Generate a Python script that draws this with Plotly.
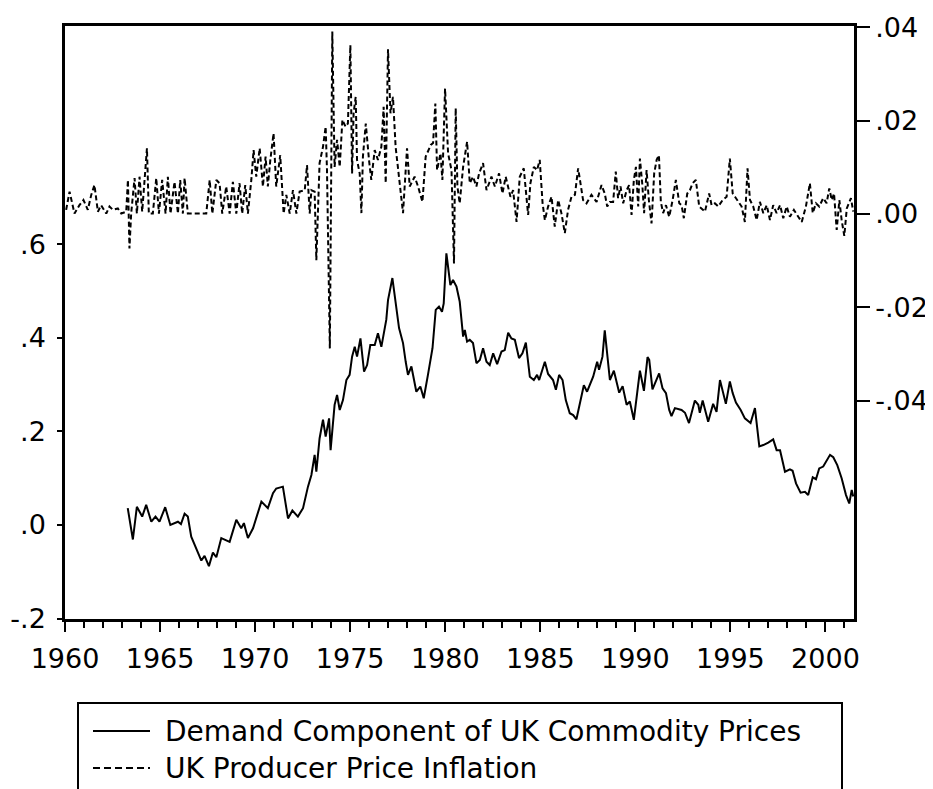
import plotly.graph_objects as go

# ---------------------------------------------------------
# Data
# ---------------------------------------------------------
dem_year = [
    1963.30, 1963.57, 1963.78, 1964.06, 1964.27, 1964.54, 1964.76, 1964.97, 1965.27, 1965.54,
    1965.94, 1966.10, 1966.29, 1966.46, 1966.64, 1966.90, 1967.17, 1967.34, 1967.57, 1967.78,
    1967.96, 1968.22, 1968.66, 1969.01, 1969.27, 1969.41, 1969.62, 1969.89, 1970.33, 1970.67,
    1970.94, 1971.11, 1971.46, 1971.73, 1971.96, 1972.25, 1972.52, 1972.78, 1972.96, 1973.13,
    1973.22, 1973.39, 1973.57, 1973.71, 1973.89, 1973.97, 1974.18, 1974.31, 1974.45, 1974.62,
    1974.80, 1974.97, 1975.10, 1975.24, 1975.36, 1975.54, 1975.73, 1975.89, 1976.06, 1976.29,
    1976.46, 1976.64, 1976.90, 1976.99, 1977.22, 1977.57, 1977.78, 1977.92, 1978.04, 1978.22,
    1978.48, 1978.69, 1978.87, 1979.09, 1979.33, 1979.50, 1979.67, 1979.83, 1979.92, 1980.06,
    1980.27, 1980.41, 1980.59, 1980.76, 1980.94, 1981.03, 1981.15, 1981.29, 1981.46, 1981.64,
    1981.82, 1981.99, 1982.17, 1982.34, 1982.52, 1982.73, 1982.96, 1983.13, 1983.31, 1983.48,
    1983.66, 1983.88, 1984.06, 1984.24, 1984.45, 1984.66, 1984.83, 1984.94, 1985.24, 1985.41,
    1985.67, 1985.82, 1985.99, 1986.17, 1986.34, 1986.55, 1986.73, 1986.90, 1987.08, 1987.29,
    1987.46, 1987.78, 1987.99, 1988.09, 1988.27, 1988.39, 1988.66, 1988.87, 1989.15, 1989.33,
    1989.54, 1989.71, 1989.92, 1990.06, 1990.24, 1990.45, 1990.64, 1990.73, 1990.90, 1991.25,
    1991.43, 1991.61, 1991.78, 1991.90, 1992.08, 1992.43, 1992.61, 1992.82, 1993.13, 1993.31,
    1993.39, 1993.54, 1993.83, 1994.09, 1994.27, 1994.45, 1994.76, 1994.97, 1995.12, 1995.29,
    1995.54, 1995.76, 1996.06, 1996.29, 1996.52, 1996.73, 1996.99, 1997.25, 1997.43, 1997.61,
    1997.87, 1998.13, 1998.27, 1998.45, 1998.69, 1998.92, 1999.09, 1999.33, 1999.50, 1999.67,
    1999.88, 2000.24, 2000.41, 2000.62, 2000.85, 2001.08, 2001.25, 2001.38, 2001.46,
]
dem_val = [
    0.036, -0.031, 0.039, 0.018, 0.043, 0.007, 0.018, 0.007, 0.038, 0.000,
    0.007, 0.002, 0.024, 0.018, -0.025, -0.050, -0.076, -0.066, -0.088, -0.059,
    -0.069, -0.028, -0.036, 0.011, -0.007, 0.004, -0.028, -0.007, 0.050, 0.036,
    0.068, 0.078, 0.082, 0.014, 0.031, 0.018, 0.036, 0.082, 0.107, 0.150,
    0.114, 0.185, 0.225, 0.189, 0.228, 0.160, 0.257, 0.278, 0.246, 0.267,
    0.310, 0.321, 0.360, 0.381, 0.360, 0.399, 0.328, 0.342, 0.385, 0.385,
    0.410, 0.381, 0.439, 0.481, 0.528, 0.421, 0.389, 0.349, 0.321, 0.339,
    0.285, 0.296, 0.271, 0.321, 0.378, 0.460, 0.467, 0.456, 0.474, 0.581,
    0.513, 0.524, 0.510, 0.478, 0.403, 0.417, 0.392, 0.396, 0.389, 0.346,
    0.353, 0.378, 0.349, 0.342, 0.367, 0.344, 0.371, 0.374, 0.411, 0.399,
    0.396, 0.357, 0.367, 0.390, 0.317, 0.310, 0.321, 0.310, 0.349, 0.323,
    0.310, 0.289, 0.321, 0.310, 0.267, 0.239, 0.235, 0.226, 0.260, 0.299,
    0.285, 0.317, 0.349, 0.332, 0.360, 0.416, 0.310, 0.330, 0.283, 0.297,
    0.257, 0.264, 0.225, 0.267, 0.330, 0.287, 0.359, 0.353, 0.290, 0.324,
    0.292, 0.282, 0.246, 0.233, 0.250, 0.246, 0.240, 0.218, 0.266, 0.257,
    0.240, 0.266, 0.221, 0.259, 0.242, 0.310, 0.259, 0.307, 0.282, 0.262,
    0.246, 0.228, 0.218, 0.250, 0.168, 0.171, 0.176, 0.183, 0.160, 0.160,
    0.114, 0.119, 0.116, 0.089, 0.069, 0.071, 0.064, 0.102, 0.098, 0.121,
    0.125, 0.150, 0.145, 0.128, 0.100, 0.064, 0.046, 0.075, 0.061,
]

ppi_year = [
    1960.06, 1960.24, 1960.50, 1960.76, 1960.97, 1961.20, 1961.38, 1961.55, 1961.73, 1961.90,
    1962.17, 1962.34, 1962.52, 1962.78, 1962.96, 1963.22, 1963.31, 1963.39, 1963.48, 1963.66,
    1963.78, 1963.92, 1964.06, 1964.18, 1964.31, 1964.41, 1964.62, 1964.80, 1964.94, 1965.11,
    1965.29, 1965.41, 1965.55, 1965.76, 1965.94, 1966.06, 1966.20, 1966.29, 1966.46, 1967.43,
    1967.61, 1967.75, 1967.96, 1968.13, 1968.27, 1968.48, 1968.66, 1968.83, 1969.01, 1969.18,
    1969.32, 1969.48, 1969.62, 1969.80, 1969.92, 1970.06, 1970.24, 1970.41, 1970.55, 1970.67,
    1970.80, 1970.97, 1971.11, 1971.32, 1971.50, 1971.64, 1971.82, 1971.99, 1972.17, 1972.34,
    1972.61, 1972.73, 1972.87, 1972.96, 1973.13, 1973.22, 1973.39, 1973.57, 1973.71, 1973.78,
    1973.93, 1974.06, 1974.18, 1974.31, 1974.45, 1974.59, 1974.76, 1974.88, 1975.01, 1975.10,
    1975.18, 1975.29, 1975.36, 1975.50, 1975.59, 1975.67, 1975.82, 1975.99, 1976.11, 1976.29,
    1976.46, 1976.64, 1976.76, 1976.87, 1976.99, 1977.12, 1977.25, 1977.39, 1977.61, 1977.78,
    1977.99, 1978.13, 1978.39, 1978.57, 1978.80, 1978.97, 1979.24, 1979.36, 1979.48, 1979.57,
    1979.75, 1979.85, 1979.99, 1980.15, 1980.33, 1980.46, 1980.55, 1980.64, 1980.76, 1980.94,
    1981.15, 1981.29, 1981.46, 1981.64, 1981.78, 1981.99, 1982.17, 1982.43, 1982.61, 1982.83,
    1983.01, 1983.18, 1983.43, 1983.57, 1983.75, 1983.92, 1984.13, 1984.36, 1984.48, 1984.66,
    1984.83, 1984.97, 1985.12, 1985.24, 1985.41, 1985.59, 1985.76, 1985.94, 1986.11, 1986.29,
    1986.46, 1986.64, 1986.82, 1986.99, 1987.25, 1987.43, 1987.69, 1987.96, 1988.04, 1988.22,
    1988.39, 1988.52, 1988.66, 1988.83, 1988.97, 1989.09, 1989.22, 1989.36, 1989.54, 1989.67,
    1989.80, 1989.92, 1990.03, 1990.15, 1990.24, 1990.36, 1990.46, 1990.59, 1990.71, 1990.85,
    1990.99, 1991.12, 1991.24, 1991.34, 1991.46, 1991.61, 1991.78, 1991.96, 1992.13, 1992.31,
    1992.43, 1992.55, 1992.73, 1992.87, 1993.01, 1993.18, 1993.36, 1993.66, 1993.88, 1994.01,
    1994.18, 1994.36, 1994.59, 1994.80, 1994.97, 1995.12, 1995.24, 1995.41, 1995.59, 1995.76,
    1995.90, 1996.03, 1996.20, 1996.38, 1996.55, 1996.73, 1996.91, 1997.08, 1997.25, 1997.43,
    1997.61, 1997.78, 1997.96, 1998.13, 1998.34, 1998.57, 1998.75, 1998.97, 1999.18, 1999.33,
    1999.50, 1999.67, 1999.88, 2000.06, 2000.20, 2000.33, 2000.45, 2000.59, 2000.73, 2000.85,
    2000.99, 2001.12, 2001.25, 2001.34, 2001.46,
]
ppi_val = [
    0.0009, 0.0048, 0.0001, 0.0019, 0.0030, 0.0009, 0.0041, 0.0062, 0.0005, 0.0019,
    0.0001, 0.0016, 0.0009, 0.0012, 0.0001, 0.0005, 0.0073, -0.0074, 0.0001, 0.0077,
    0.0001, 0.0080, 0.0005, 0.0080, 0.0141, 0.0001, 0.0001, 0.0077, 0.0001, 0.0073,
    0.0001, 0.0080, 0.0001, 0.0069, 0.0001, 0.0073, 0.0001, 0.0077, 0.0001, 0.0001,
    0.0073, 0.0001, 0.0073, 0.0066, 0.0001, 0.0059, 0.0001, 0.0069, 0.0001, 0.0066,
    0.0001, 0.0062, 0.0001, 0.0073, 0.0137, 0.0080, 0.0141, 0.0059, 0.0123, 0.0059,
    0.0116, 0.0173, 0.0059, 0.0126, 0.0001, 0.0041, 0.0001, 0.0051, 0.0001, 0.0048,
    0.0051, 0.0105, 0.0001, 0.0051, 0.0048, -0.0099, 0.0109, 0.0144, 0.0187, 0.0094,
    -0.0288, 0.0391, 0.0101, 0.0159, 0.0101, 0.0202, 0.0187, 0.0194, 0.0362, 0.0087,
    0.0216, 0.0251, 0.0116, 0.0087, 0.0002, 0.0123, 0.0194, 0.0116, 0.0073, 0.0137,
    0.0116, 0.0144, 0.0230, 0.0066, 0.0353, 0.0216, 0.0251, 0.0144, 0.0059, 0.0002,
    0.0141, 0.0059, 0.0080, 0.0059, 0.0026, 0.0123, 0.0148, 0.0152, 0.0237, 0.0094,
    0.0130, 0.0073, 0.0269, 0.0130, 0.0094, -0.0106, 0.0227, 0.0059, 0.0023, 0.0101,
    0.0155, 0.0066, 0.0080, 0.0059, 0.0087, 0.0109, 0.0051, 0.0080, 0.0059, 0.0087,
    0.0044, 0.0080, 0.0037, 0.0051, -0.0017, 0.0080, 0.0098, -0.0002, 0.0066, 0.0101,
    0.0094, 0.0116, 0.0023, -0.0013, 0.0016, 0.0037, -0.0027, 0.0030, 0.0002, -0.0041,
    0.0009, 0.0037, 0.0041, 0.0098, 0.0030, 0.0023, 0.0041, 0.0026, 0.0037, 0.0062,
    0.0044, 0.0016, 0.0026, 0.0026, 0.0091, 0.0034, 0.0059, 0.0023, 0.0051, 0.0062,
    -0.0002, 0.0073, 0.0101, 0.0016, 0.0119, 0.0066, 0.0002, 0.0094, 0.0030, -0.0020,
    0.0087, 0.0116, 0.0126, 0.0026, 0.0002, 0.0019, -0.0006, 0.0030, 0.0073, 0.0023,
    0.0019, -0.0009, 0.0044, 0.0051, 0.0066, 0.0073, 0.0016, 0.0005, 0.0044, 0.0019,
    0.0023, 0.0016, 0.0030, 0.0037, 0.0119, 0.0044, 0.0037, 0.0026, 0.0016, -0.0017,
    0.0098, 0.0030, 0.0016, -0.0013, 0.0026, 0.0002, 0.0019, -0.0013, 0.0019, 0.0002,
    0.0019, -0.0009, 0.0016, -0.0006, 0.0009, -0.0006, -0.0017, 0.0016, 0.0066, 0.0002,
    0.0023, 0.0016, 0.0034, 0.0023, 0.0055, 0.0030, 0.0044, -0.0034, 0.0030, -0.0013,
    -0.0047, 0.0012, 0.0026, 0.0034, 0.0005,
]

x_ticks = [1960, 1965, 1970, 1975, 1980, 1985, 1990, 1995, 2000]
left_ticks = [-0.2, 0.0, 0.2, 0.4, 0.6]
left_labels = ["-.2", ".0", ".2", ".4", ".6"]
right_ticks = [0.04, 0.02, 0.0, -0.02, -0.04]
right_labels = [".04", ".02", ".00", "-.02", "-.04"]
series_names = ["Demand Component of UK Commodity Prices", "UK Producer Price Inflation"]

FONT = "DejaVu Sans, Liberation Sans, Arial, sans-serif"
# the page body adds an 8px margin, so the figure is 8px smaller and shifted
OFF = 8
W, H = 933 - OFF, 789 - OFF
ML, MR, MT, MB = 65 - OFF, 79, 26 - OFF, 170
PW, PH = W - ML - MR, H - MT - MB


def px_x(p):
    # window pixel -> paper x
    return (p - OFF - ML) / PW


def px_y(p):
    # window pixel -> paper y
    return (H - MB - (p - OFF)) / PH


# ---------------------------------------------------------
# Figure
# ---------------------------------------------------------
fig = go.Figure()
fig.add_trace(go.Scatter(x=dem_year, y=dem_val, mode="lines", name=series_names[0],
                         line=dict(color="black", width=2), yaxis="y"))
fig.add_trace(go.Scatter(x=ppi_year, y=ppi_val, mode="lines", name=series_names[1],
                         line=dict(color="black", width=2, dash="5px,3px"), yaxis="y2"))

axis_common = dict(showgrid=False, zeroline=False, showline=True, linecolor="black",
                   linewidth=2.5, ticks="outside", tickcolor="black", tickwidth=2,
                   automargin=False,
                   tickfont=dict(family=FONT, size=27, color="black"))

fig.update_layout(
    width=W, height=H,
    margin=dict(l=ML, r=MR, t=MT, b=MB, pad=0),
    plot_bgcolor="white", paper_bgcolor="white",
    showlegend=False,
    xaxis=dict(range=[1960, 2001.5], tickvals=x_ticks, ticklen=10, mirror=True,
               ticklabelstandoff=4,
               minor=dict(tickmode="linear", tick0=1960, dtick=1, ticks="outside",
                          ticklen=6, tickwidth=2, tickcolor="black"),
               **axis_common),
    yaxis=dict(range=[-0.201, 1.067], tickvals=left_ticks, ticktext=left_labels,
               ticklen=5, ticklabelstandoff=6, **axis_common),
    yaxis2=dict(range=[-0.0868, 0.0403], tickvals=right_ticks, ticktext=right_labels,
                overlaying="y", side="right", anchor="x", ticklen=13,
                ticklabelstandoff=0, **axis_common),
)

# ---------------------------------------------------------
# Legend box drawn below the plot (EViews style)
# ---------------------------------------------------------
fig.add_shape(type="rect", xref="paper", yref="paper",
              x0=px_x(78), x1=px_x(842), y0=px_y(800), y1=px_y(703),
              line=dict(color="black", width=2), fillcolor="white", layer="above")
rows = [(731, "solid"), (768, "7px,4px")]
for (row_y, dash), name in zip(rows, series_names):
    fig.add_shape(type="line", xref="paper", yref="paper",
                  x0=px_x(93), x1=px_x(150), y0=px_y(row_y), y1=px_y(row_y),
                  line=dict(color="black", width=2, dash=dash))
    fig.add_annotation(xref="paper", yref="paper", x=px_x(163), y=px_y(row_y),
                       text=name, showarrow=False, xanchor="left", yanchor="middle",
                       font=dict(family=FONT, size=28, color="black"))

fig.write_html("out.html")
